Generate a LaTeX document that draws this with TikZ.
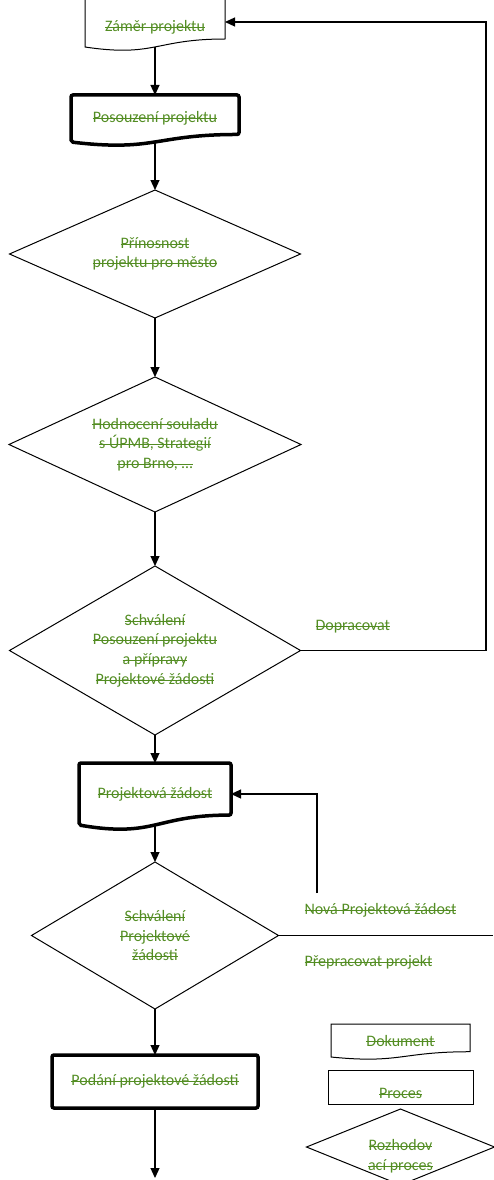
\documentclass[tikz,border=0pt]{standalone}
\usepackage{fontspec}
\setmainfont{Carlito}
\usepackage{xcolor}
\usetikzlibrary{
arrows.meta,
positioning,
calc,
shapes.geometric
}
\definecolor{deleted}{RGB}{83,141,35}

% struck-through text
\newlength{\strklen}
\newcommand{\strk}[1]{\settowidth{\strklen}{#1}\rlap{\rule[0.5ex]{\strklen}{0.8pt}}#1}

% outline of a document shape around a (not drawn) node
\newcommand{\docoutline}[2][]{%
  \draw[line width=1pt, #1] (#2.north west) -- (#2.north east)
    -- ($(#2.south east)!0.16!(#2.north east)$)
    .. controls ($(#2.south)!0.16!(#2.north)$) and ($(#2.south)!-0.21!(#2.north)$)
    .. (#2.south west) -- cycle;}

\tikzset{
  every node/.style={font=\fontsize{16}{19.7}\selectfont, text=deleted, align=center},
  docbox/.style={shape=rectangle, inner sep=0pt, outer sep=0pt},
  procbox/.style={shape=rectangle, draw, inner sep=0pt, outer sep=0pt, line width=1pt},
  heavy/.style={line width=3.5pt, rounded corners=2pt},
  decision/.style={shape=diamond, draw, inner sep=0pt, outer sep=0pt, line width=1pt},
  flow/.style={-{Triangle[length=10pt,width=9pt]}, line width=1.2pt},
  branch/.style={anchor=west}
}

\begin{document}
\begin{tikzpicture}[x=1pt, y=-1pt]
    \useasboundingbox (0,0) rectangle (493,1180);
    \node [docbox, minimum width=140pt, minimum height=50pt, text height=22pt, text depth=3.5pt] (zamer) at (155,22) {\strk{Záměr projektu}};
    \node [docbox, minimum width=168pt, minimum height=47pt, below = 48pt of zamer] (posouzeni) {\strk{Posouzení projektu}};
    \node [decision, minimum width=291pt, minimum height=128pt, shape aspect=2.27, below = 48pt of posouzeni] (prinos) {\strk{Přínosnost}\\\strk{projektu pro město}};
    \node [decision, minimum width=292pt, minimum height=135pt, shape aspect=2.16, below = 59pt of prinos] (soulad) {\strk{Hodnocení souladu}\\\strk{s ÚPMB, Strategií}\\\strk{pro Brno, …}};
    \node [decision, minimum width=291pt, minimum height=169pt, shape aspect=1.72, below = 54pt of soulad] (schvaleni) {\strk{Schválení}\\\strk{Posouzení projektu}\\\strk{a přípravy}\\\strk{Projektové žádosti}};
    \node [docbox, minimum width=152pt, minimum height=62pt, below = 28pt of schvaleni] (zadost) {\strk{Projektová žádost}};
    \node [decision, minimum width=247pt, minimum height=147pt, shape aspect=1.68, below = 37pt of zadost] (schvzadost) {\strk{Schválení}\\\strk{Projektové}\\\strk{žádosti}};
    \node [procbox, heavy, minimum width=206pt, minimum height=53pt, below = 46pt of schvzadost] (podani) {\strk{Podání projektové žádosti}};
    \coordinate [below = 70pt of podani] (podano);

    % document outlines
    \docoutline{zamer}
    \docoutline[heavy]{posouzeni}
    \docoutline[heavy]{zadost}

    % branches
    \node [branch] (dopracovat) at (312,627) {\strk{Dopracovat}};
    \node [branch] (nova) at (301,910) {\strk{Nová Projektová žádost}};
    \node [branch] (prepracovat) at (301,962) {\strk{Přepracovat projekt}};
    \coordinate (rightedge) at (486,0);
    \coordinate (novastart) at (317,893);
    \coordinate (reworkend) at (493,935.5);

    % legend
    \node [docbox, minimum width=139pt, minimum height=33pt] (legdoc) at (400.5,1040.5) {\strk{Dokument}};
    \node [procbox, minimum width=145pt, minimum height=34pt, text height=23pt, text depth=0pt, below = 13pt of legdoc] (legproc) {\strk{Proces}};
    \node [decision, minimum width=188pt, minimum height=76pt, shape aspect=2.47, below = 5pt of legproc] (legdec) {};
    \node (legdectext) at ([yshift=-9pt]legdec.center) {\strk{Rozhodov}\\\strk{ací proces}};
    \docoutline{legdoc}

    \draw[flow] (zamer.south) -- (posouzeni.north);
    \draw[flow] (posouzeni.south) -- (prinos.north);
    \draw[flow] (prinos.south) -- (soulad.north);
    \draw[flow] (soulad.south) -- (schvaleni.north);
    \draw[flow] (schvaleni.south) -- (zadost.north);
    \draw[flow] (zadost.south) -- (schvzadost.north);
    \draw[flow] (schvzadost.south) -- (podani.north);
    \draw[flow] (podani.south) -- (podano);
    \draw[flow] (schvaleni.east) -- (schvaleni.east -| rightedge) |- (zamer.east);
    \draw[flow] (novastart) |- (zadost.east);
    \draw[line width=1.2pt] (schvzadost.east) -- (reworkend);
\end{tikzpicture}
\end{document}
